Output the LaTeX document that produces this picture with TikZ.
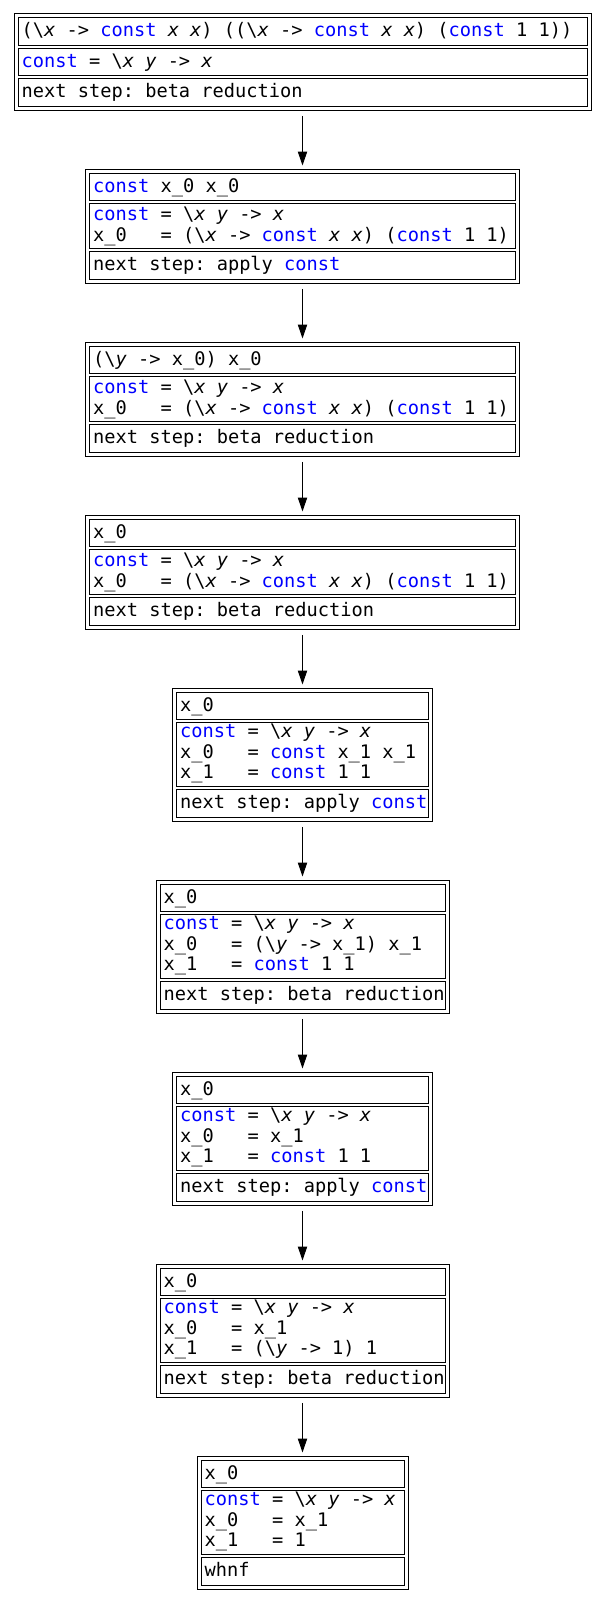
\documentclass[tikz,border=0pt]{standalone}
\usepackage{fontspec}
\setmonofont{DejaVu Sans Mono}
\usepackage{xcolor}
\usetikzlibrary{arrows.meta,positioning,fit}

\newcommand{\kw}[1]{\textcolor{blue}{#1}}
\newcommand{\vr}[1]{\textit{#1}}
\newcommand{\bs}{\textbackslash}
% one code line; optional argument = depth below the baseline
\newcommand{\cl}[2][3pt]{\mbox{\spaceskip=0.602em\xspaceskip=0.602em\relax\rule[-#1]{0pt}{\dimexpr11.3pt+#1\relax}#2}}
\newcommand{\constdef}{\cl{\kw{const} = \bs\vr{x} \vr{y} -> \vr{x}}}
\newcommand{\heapx}{\constdef\\ \cl[4.1pt]{x\_0\ \ \ = (\bs\vr{x} -> \kw{const} \vr{x} \vr{x}) (\kw{const} 1 1)}}

\begin{document}
\lineskiplimit=-20pt
\begin{tikzpicture}[font=\fontsize{14}{13.125}\selectfont\ttfamily, node distance=1.5pt,
  c/.style={draw, line width=0.75pt, inner xsep=2.75pt, inner ysep=0pt, text width=#1, align=left, minimum height=20.625pt},
  c2/.style={c=#1, minimum height=33.75pt}, c3/.style={c=#1, minimum height=48pt},
  fr/.style={draw, line width=0.75pt, inner sep=2.625pt},
  arr/.style={-{Triangle[length=10.5pt,width=7pt]}, line width=0.75pt, shorten <=4pt, shorten >=2.25pt}]
  \useasboundingbox (0,0) rectangle (453.75pt,-1199.25pt);
  % 1
  \node[c=421.25pt, anchor=north] (e1) at (226.875pt,-12.75pt) {\cl{(\bs\vr{x} -> \kw{const} \vr{x} \vr{x}) ((\bs\vr{x} -> \kw{const} \vr{x} \vr{x}) (\kw{const} 1 1))}};
  \node[c=421.25pt, below=of e1] (h1) {\constdef};
  \node[c=421.25pt, below=of h1] (n1) {\cl{next step: beta reduction}};
  \node[fr, fit=(e1)(n1)] (s1) {};
  % 2
  \node[c=314pt, below=46.5pt of s1] (e2) {\cl{\kw{const} x\_0 x\_0}};
  \node[c2=314pt, below=of e2] (h2) {\heapx};
  \node[c=314pt, below=of h2] (n2) {\cl{next step: apply \kw{const}}};
  \node[fr, fit=(e2)(n2)] (s2) {};
  % 3
  \node[c=314pt, below=46.5pt of s2] (e3) {\cl{(\bs\vr{y} -> x\_0) x\_0}};
  \node[c2=314pt, below=of e3] (h3) {\heapx};
  \node[c=314pt, below=of h3] (n3) {\cl{next step: beta reduction}};
  \node[fr, fit=(e3)(n3)] (s3) {};
  % 4
  \node[c=314pt, below=46.5pt of s3] (e4) {\cl{x\_0}};
  \node[c2=314pt, below=of e4] (h4) {\heapx};
  \node[c=314pt, below=of h4] (n4) {\cl{next step: beta reduction}};
  \node[fr, fit=(e4)(n4)] (s4) {};
  % 5
  \node[c=183.5pt, below=46.5pt of s4] (e5) {\cl{x\_0}};
  \node[c3=183.5pt, below=of e5] (h5) {\constdef\\ \cl{x\_0\ \ \ = \kw{const} x\_1 x\_1}\\ \cl[5.65pt]{x\_1\ \ \ = \kw{const} 1 1}};
  \node[c=183.5pt, below=of h5] (n5) {\cl{next step: apply \kw{const}}};
  \node[fr, fit=(e5)(n5)] (s5) {};
  % 6
  \node[c=208.25pt, below=46.5pt of s5] (e6) {\cl{x\_0}};
  \node[c3=208.25pt, below=of e6] (h6) {\constdef\\ \cl{x\_0\ \ \ = (\bs\vr{y} -> x\_1) x\_1}\\ \cl[5.65pt]{x\_1\ \ \ = \kw{const} 1 1}};
  \node[c=208.25pt, below=of h6] (n6) {\cl{next step: beta reduction}};
  \node[fr, fit=(e6)(n6)] (s6) {};
  % 7
  \node[c=183.5pt, below=46.5pt of s6] (e7) {\cl{x\_0}};
  \node[c3=183.5pt, below=of e7] (h7) {\constdef\\ \cl{x\_0\ \ \ = x\_1}\\ \cl[5.65pt]{x\_1\ \ \ = \kw{const} 1 1}};
  \node[c=183.5pt, below=of h7] (n7) {\cl{next step: apply \kw{const}}};
  \node[fr, fit=(e7)(n7)] (s7) {};
  % 8
  \node[c=208.25pt, below=46.5pt of s7] (e8) {\cl{x\_0}};
  \node[c3=208.25pt, below=of e8] (h8) {\constdef\\ \cl{x\_0\ \ \ = x\_1}\\ \cl[5.65pt]{x\_1\ \ \ = (\bs\vr{y} -> 1) 1}};
  \node[c=208.25pt, below=of h8] (n8) {\cl{next step: beta reduction}};
  \node[fr, fit=(e8)(n8)] (s8) {};
  % 9
  \node[c=146.75pt, below=46.5pt of s8] (e9) {\cl{x\_0}};
  \node[c3=146.75pt, below=of e9] (h9) {\constdef\\ \cl{x\_0\ \ \ = x\_1}\\ \cl[5.65pt]{x\_1\ \ \ = 1}};
  \node[c=146.75pt, below=of h9] (n9) {\cl{whnf}};
  \node[fr, fit=(e9)(n9)] (s9) {};
  \foreach \u/\v in {s1/s2,s2/s3,s3/s4,s4/s5,s5/s6,s6/s7,s7/s8,s8/s9} \draw[arr] (\u) -- (\v);
\end{tikzpicture}
\end{document}
